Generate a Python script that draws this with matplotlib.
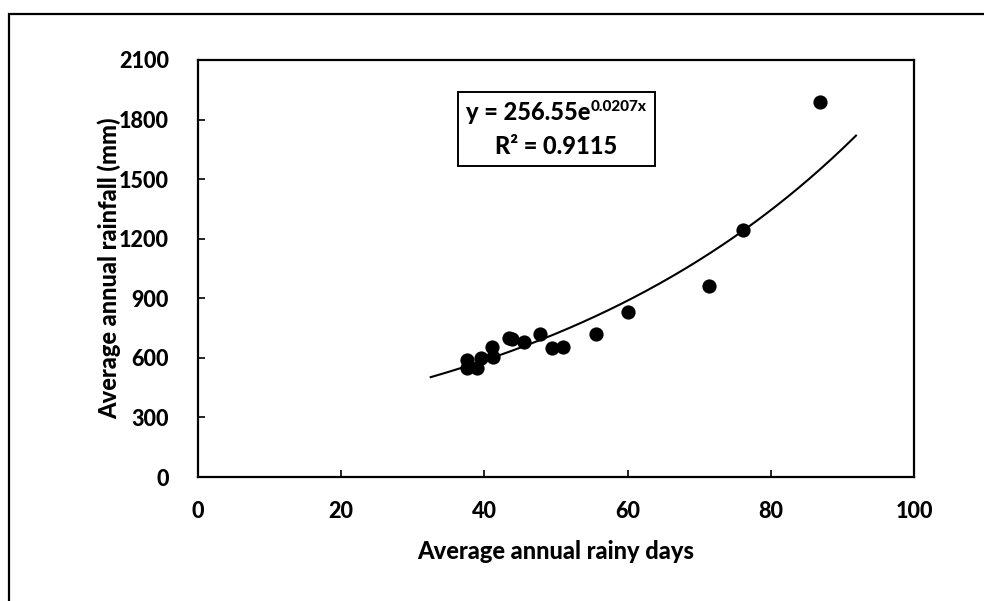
import numpy as np
import matplotlib
matplotlib.use("Agg")
import matplotlib.pyplot as plt
from matplotlib.patches import Rectangle

# heavy Lato stands in for the bold Calibri look
plt.rcParams["font.family"] = ["Lato", "DejaVu Sans"]
plt.rcParams["font.weight"] = 900
plt.rcParams["axes.labelweight"] = 900

# Station averages: rainy days vs rainfall
rainy_days = [37.5, 37.5, 39.0, 39.5, 41.0, 41.2, 43.4, 43.9, 45.6, 47.7,
              49.4, 51.0, 55.6, 60.1, 71.4, 76.1, 86.9]
rainfall_mm = [590, 550, 548, 600, 655, 605, 700, 695, 682, 722,
               648, 655, 722, 830, 960, 1242, 1890]

# Exponential trend fit y = a * exp(b * x)
fit_a = 256.55
fit_b = 0.0207
fit_r2 = 0.9115
trend_extend = 5  # forecast forward/backward in days

x_ticks = [0, 20, 40, 60, 80, 100]
y_ticks = [0, 300, 600, 900, 1200, 1500, 1800, 2100]

W, H = 984, 601
fig = plt.figure(figsize=(W / 100, H / 100), dpi=100)
fig.patch.set_facecolor("white")

# outer chart frame (runs off the right and bottom edges)
fig.patches.append(Rectangle((8.5 / W, -0.1), 1.2, 1.1 - 13.5 / H,
                             transform=fig.transFigure, fill=False,
                             edgecolor="black", linewidth=1.6, clip_on=False))

left, right, top, bottom = 198, 914, 60, 477
ax = fig.add_axes([left / W, 1 - bottom / H, (right - left) / W, (bottom - top) / H])

ax.scatter(rainy_days, rainfall_mm, s=105, color="black", zorder=3, linewidths=0)

x_fit = np.linspace(min(rainy_days) - trend_extend, max(rainy_days) + trend_extend, 200)
ax.plot(x_fit, fit_a * np.exp(fit_b * x_fit), color="black", linewidth=1.5, zorder=2)

ax.set_xlim(0, 100)
ax.set_ylim(0, 2100)
ax.set_xticks(x_ticks)
ax.set_yticks(y_ticks)
ax.tick_params(direction="in", length=5, width=1.2, labelsize=15.5)
ax.tick_params(axis="x", pad=17)
ax.tick_params(axis="y", pad=21)
for s in ax.spines.values():
    s.set_linewidth(1.6)
    s.set_color("black")

ax.set_xlabel("Average annual rainy days", fontsize=17, fontweight=900)
ax.set_ylabel("Average annual rainfall (mm)", fontsize=17, fontweight=900)
ax.xaxis.set_label_coords(0.5, (bottom - 540) / (bottom - top))
ax.yaxis.set_label_coords((121 - left) / (right - left), 0.5)

# equation box
fig.patches.append(Rectangle((458 / W, 1 - 166 / H), (655 - 458) / W, (166 - 92) / H,
                             transform=fig.transFigure, fill=True, facecolor="white",
                             edgecolor="black", linewidth=1.4, zorder=5))
eq_main = fig.text(0, 1 - 120 / H, f"y = {fit_a}e", fontsize=17, va="baseline", zorder=6)
eq_sup = fig.text(0, 1 - 111 / H, f"{fit_b}x", fontsize=11, va="baseline", zorder=6)
renderer = fig.canvas.get_renderer()
w_main = eq_main.get_window_extent(renderer).width
w_sup = eq_sup.get_window_extent(renderer).width
x0 = 556.5 - (w_main + w_sup) / 2
eq_main.set_x(x0 / W)
eq_sup.set_x((x0 + w_main) / W)
fig.text(556.5 / W, 1 - 154 / H, f"R² = {fit_r2}", ha="center", va="baseline",
         fontsize=17, zorder=6)

fig.savefig("out.png", dpi=100)
